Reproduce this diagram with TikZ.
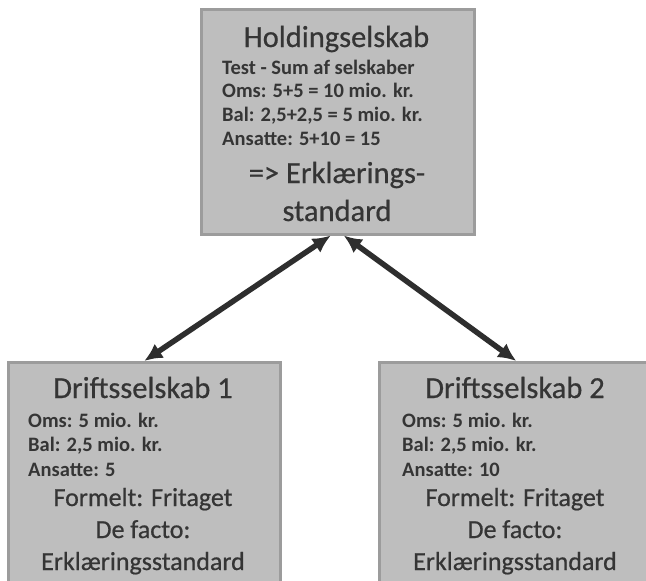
\documentclass[tikz,border=0pt]{standalone}
\usepackage{fontspec}
\setmainfont{Carlito}
\newfontfamily\heavyfont{Carlito}[FakeBold=0.6]
\usetikzlibrary{arrows.meta}
\definecolor{boxfill}{HTML}{BEBEBE}
\definecolor{boxline}{HTML}{9C9C9C}
\definecolor{txt}{HTML}{353535}
\definecolor{arr}{HTML}{2E2E2E}
\begin{document}
\begin{tikzpicture}[x=1pt,y=-1pt,
  box/.style={draw=boxline, line width=2.5pt, fill=boxfill, anchor=north west, inner sep=0pt},
  ttl/.style={font=\heavyfont\fontsize{30.5}{34}\selectfont, text=txt, inner sep=0pt, anchor=base},
  sub/.style={font=\heavyfont\fontsize{26}{30}\selectfont, text=txt, inner sep=0pt, anchor=base},
  sml/.style={font=\fontsize{20.5}{24}\selectfont\bfseries, text=txt, inner sep=0pt, anchor=base west},
  conn/.style={draw=arr, line width=5.5pt, {Latex[length=18pt,width=17pt]}-{Latex[length=18pt,width=17pt]}}]
\useasboundingbox (0,0) rectangle (646,581);
\clip (0,0) rectangle (646,581);
\fill[white] (0,0) rectangle (646,581);
% boxes
\node[box, minimum width=273pt, minimum height=225pt] (top) at (200,8) {};
\node[box, minimum width=272pt, minimum height=230pt] (bl) at (7,361) {};
\node[box, minimum width=274pt, minimum height=230pt] (br) at (378,361) {};
% top text
\node[ttl] (t0) at (336.5,47) {Holdingselskab};
\node[sml] (t1) at (222,74) {Test - Sum af selskaber};
\node[sml] (t2) at (222,97.5) {Oms: 5+5 = 10 mio. kr.};
\node[sml] (t3) at (222,121) {Bal: 2,5+2,5 = 5 mio. kr.};
\node[sml] (t4) at (222,145) {Ansatte: 5+10 = 15};
\node[ttl] (t5) at (337,183) {=> Erklærings-};
\node[ttl] (t6) at (337,221) {standard};
% bottom left text
\node[ttl] (l0) at (143,398) {Driftsselskab 1};
\node[sml] (l1) at (28,427) {Oms: 5 mio. kr.};
\node[sml] (l2) at (28,451) {Bal: 2,5 mio. kr.};
\node[sml] (l3) at (28,476) {Ansatte: 5};
\node[sub] (l4) at (143,506) {Formelt: Fritaget};
\node[sub] (l5) at (143,538) {De facto:};
\node[sub] (l6) at (143,570) {Erklæringsstandard};
% bottom right text
\node[ttl] (r0) at (515,398) {Driftsselskab 2};
\node[sml] (r1) at (402,427) {Oms: 5 mio. kr.};
\node[sml] (r2) at (402,451) {Bal: 2,5 mio. kr.};
\node[sml] (r3) at (402,476) {Ansatte: 10};
\node[sub] (r4) at (515,506) {Formelt: Fritaget};
\node[sub] (r5) at (515,538) {De facto:};
\node[sub] (r6) at (515,570) {Erklæringsstandard};
% connectors
\draw[conn] ([xshift=-7pt]top.south) -- (bl.north);
\draw[conn] ([xshift=6pt]top.south) -- (br.north);
\end{tikzpicture}
\end{document}
